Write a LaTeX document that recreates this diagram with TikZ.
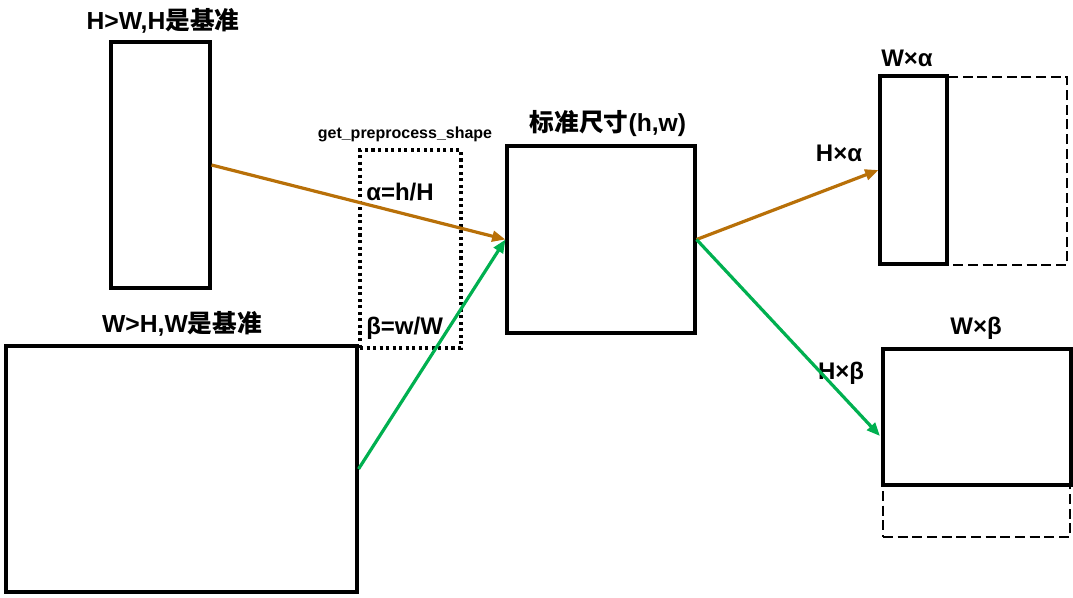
\documentclass[tikz,border=0pt]{standalone}
\usepackage{fontspec}
\setmainfont{Liberation Sans}
\newfontfamily\cjk{Noto Sans CJK SC}
\usetikzlibrary{arrows.meta,fit}
\definecolor{brownarr}{RGB}{184,112,8}
\definecolor{greenarr}{RGB}{0,176,80}
\begin{document}
\begin{tikzpicture}[x=0.75pt,y=-0.75pt,
  box/.style={draw=black,line width=2.3pt,inner sep=0pt},
  dotbox/.style={draw=black,line width=2.3pt,inner sep=0pt,dash pattern=on 2.3pt off 2.6pt},
  dashbox/.style={draw=black,line width=2.2pt,inner sep=0pt,dash pattern=on 7.5pt off 3.5pt},
  lbl/.style={font=\bfseries\fontsize{18.5}{22}\selectfont,inner sep=0pt},
  mlbl/.style={font=\bfseries\fontsize{18}{21}\selectfont,inner sep=0pt},
  slbl/.style={font=\bfseries\fontsize{12}{14}\selectfont,inner sep=0pt},
  arr/.style={line width=2.4pt,-{Triangle[length=10pt,width=8pt]}},
]
\useasboundingbox (0,0) rectangle (1073,597);
% boxes
\node[box,fit={(111,42) (210,288)}] (tall) {};
\node[box,fit={(6,346) (357,592)}] (wide) {};
\node[dotbox,fit={(360,150) (461,348)}] (pre) {};
\node[box,fit={(507,146) (695,333)}] (std) {};
\node[dashbox,fit={(880,77) (1067,265)}] (adash) {};
\node[box,fit={(880,76) (947,264)}] (asol) {};
\node[dashbox,fit={(883,349) (1070,537)}] (bdash) {};
\node[box,fit={(883,349) (1071,485)}] (bsol) {};
\coordinate (bin) at (880,436);
% labels
\node[lbl] (t1) at (163,21) {H>W,H{\cjk 是基准}};
\node[lbl] (t2) at (182,324) {W>H,W{\cjk 是基准}};
\node[slbl] (t3) at (405,134) {get\_preprocess\_shape};
\node[mlbl,anchor=west] (t4) at (366,192) {α=h/H};
\node[mlbl,anchor=west] (t5) at (366,328) {β=w/W};
\node[lbl] (t6) at (608,124) {{\cjk 标准尺寸}(h,w)};
\node[mlbl] (t7) at (907,58) {W×α};
\node[mlbl] (t8) at (839,153) {H×α};
\node[mlbl] (t9) at (976,328) {W×β};
\node[mlbl] (t10) at (841,373) {H×β};
% arrows
\draw[arr,brownarr] (tall.east) -- (std.west);
\draw[arr,greenarr] (wide.east) -- (std.west);
\draw[arr,brownarr] (std.east) -- (asol.west);
\draw[arr,greenarr] (std.east) -- (bin);
\end{tikzpicture}
\end{document}
